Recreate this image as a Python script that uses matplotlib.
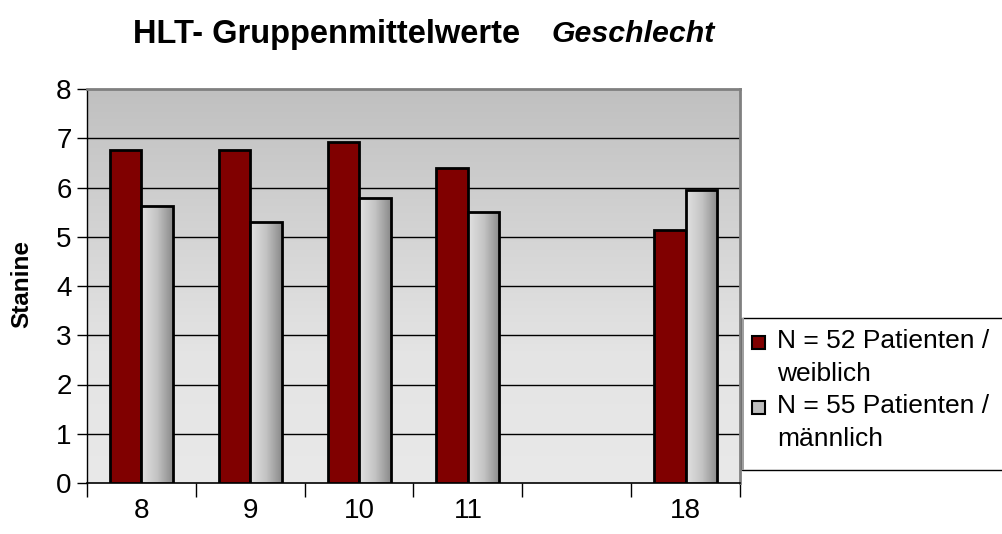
import numpy as np
import matplotlib
matplotlib.use("Agg")
import matplotlib.pyplot as plt
from matplotlib.patches import Rectangle
from matplotlib.colors import LinearSegmentedColormap

plt.rcParams['font.family'] = ['Liberation Sans', 'DejaVu Sans']

categories = ["8", "9", "10", "11", "", "18"]
weiblich = [6.76, 6.77, 6.93, 6.39, np.nan, 5.13]
maennlich = [5.62, 5.30, 5.78, 5.50, np.nan, 5.94]
series_labels = ["N = 52 Patienten /\nweiblich", "N = 55 Patienten /\nmännlich"]
yticks = [0, 1, 2, 3, 4, 5, 6, 7, 8]

W, H = 1003, 534
fig = plt.figure(figsize=(W / 100, H / 100), dpi=100)
ax = fig.add_axes([87 / W, (H - 483) / H, (740 - 87) / W, (483 - 89) / H])

x = np.arange(len(categories))
bw = 0.29
xlim = (-0.5, len(categories) - 0.5)
ylim = (0, 8)

# background gradient
bg = LinearSegmentedColormap.from_list("bg", ["#e9e9e9", "#e4e4e4", "#d2d2d2", "#c0c0c0"])
grad = np.linspace(0, 1, 256).reshape(-1, 1)
ax.imshow(grad, extent=[xlim[0], xlim[1], ylim[0], ylim[1]], origin="lower",
          aspect="auto", cmap=bg, zorder=0, interpolation="bilinear")

for yv in yticks[1:-1]:
    ax.axhline(yv, color="#000000", lw=1.0, zorder=1)

red_bars = ax.bar(x - bw / 2, weiblich, bw, color="#800000", edgecolor="black",
                  linewidth=2.0, zorder=3)
grey_bars = ax.bar(x + bw / 2, maennlich, bw, color="none", edgecolor="black",
                   linewidth=2.0, zorder=4)

gcmap = LinearSegmentedColormap.from_list("gb", ["#e2e2e2", "#c4c4c4", "#8a8a8a"])
hgrad = np.linspace(0, 1, 256).reshape(1, -1)
for b in grey_bars:
    h = b.get_height()
    if np.isnan(h):
        continue
    x0 = b.get_x()
    im = ax.imshow(hgrad, extent=[x0, x0 + b.get_width(), 0, h], aspect="auto",
                   cmap=gcmap, zorder=3.5, interpolation="bilinear")
    im.set_clip_path(b)

ax.set_xlim(*xlim)
ax.set_ylim(*ylim)

for s in ["top", "right"]:
    ax.spines[s].set_color("#808080")
    ax.spines[s].set_linewidth(2.0)
ax.spines["left"].set_color("black")
ax.spines["left"].set_linewidth(1.0)
ax.spines["bottom"].set_color("black")
ax.spines["bottom"].set_linewidth(1.2)

ax.set_yticks(yticks)
ax.set_yticklabels([str(v) for v in yticks])
ax.tick_params(axis="y", direction="out", length=7, width=1, pad=4, labelsize=20)
ax.set_xticks(x)
ax.set_xticklabels(categories)
ax.tick_params(axis="x", which="major", length=0, pad=11, labelsize=20)
ax.set_xticks(np.arange(len(categories) + 1) - 0.5, minor=True)
ax.tick_params(axis="x", which="minor", direction="out", length=10, width=1)

fig.text(22 / W, 1 - 284 / H, "Stanine", fontsize=17.5, fontweight="bold",
         rotation=90, ha="center", va="center")

fig.text(133 / W, 1 - 34 / H, "HLT- Gruppenmittelwerte", fontsize=23.5,
         fontweight="bold", ha="left", va="center")
fig.text(552 / W, 1 - 34 / H, "Geschlecht", fontsize=21.8, fontweight="bold",
         style="italic", ha="left", va="center")

# legend (drawn like the spreadsheet legend: marker beside first line)
fig.patches.append(Rectangle((742 / W, (H - 470) / H), 300 / W, 152 / H,
                             transform=fig.transFigure, facecolor="white",
                             edgecolor="black", linewidth=1.0, zorder=0))
fig.patches.append(Rectangle((742 / W, (H - 470) / H), 2 / W, 152 / H,
                             transform=fig.transFigure, facecolor="#a0a0a0",
                             edgecolor="none", zorder=1))
leg_colors = ["#800000", "#bdbdbd"]
leg_tops = [336, 401]
for lab, col, top in zip(series_labels, leg_colors, leg_tops):
    fig.patches.append(Rectangle((752 / W, (H - top - 13) / H), 13 / W, 13 / H,
                                 transform=fig.transFigure, facecolor=col,
                                 edgecolor="black", linewidth=1.5, zorder=2))
    fig.text(777 / W, 1 - (top - 7) / H, lab, fontsize=19, ha="left", va="top",
             linespacing=1.45)

fig.savefig("out.png", dpi=100)
